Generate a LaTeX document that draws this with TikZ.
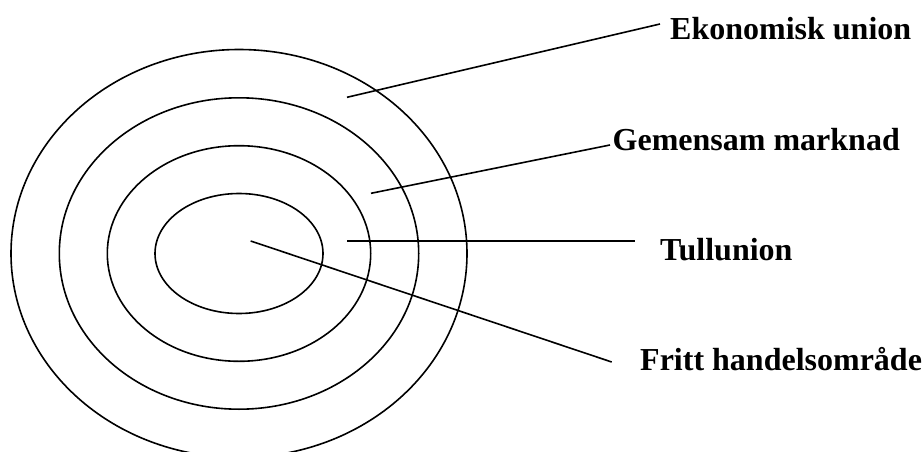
\documentclass[tikz,border=0pt]{standalone}
\usepackage{fontspec}
\setmainfont{Liberation Serif}
\begin{document}
\begin{tikzpicture}[x=1pt,y=1pt,
  ring/.style={draw=black,line width=1.6pt},
  leader/.style={draw=black,line width=1.6pt},
  lbl/.style={anchor=base west,inner sep=0pt,font=\fontsize{32}{38}\selectfont\bfseries}]
\useasboundingbox (0,0) rectangle (923,-452);
\clip (0,0) rectangle (923,-452);
\coordinate (c) at (239,-253.5);
\draw[ring] (c) ellipse [x radius=228, y radius=204];
\draw[ring] (c) ellipse [x radius=179.7, y radius=155.7];
\draw[ring] (c) ellipse [x radius=131.7, y radius=107.8];
\draw[ring] (c) ellipse [x radius=84, y radius=60];
\node[lbl] (eu) at (670,-40) {Ekonomisk union};
\node[lbl] (gm) at (612.5,-150) {Gemensam marknad};
\node[lbl] (tu) at (660,-260.7) {Tullunion};
\node[lbl] (fh) at (640,-370.7) {Fritt handelsområde};
\coordinate (eu-s) at (347,-97.3);
\coordinate (eu-e) at (660,-24);
\coordinate (gm-s) at (371,-193.3);
\coordinate (gm-e) at (610,-145);
\coordinate (tu-s) at (347,-240.7);
\coordinate (tu-e) at (635,-240.7);
\coordinate (fh-s) at (250.7,-241);
\coordinate (fh-e) at (611.7,-362);
\draw[leader] (eu-s) -- (eu-e);
\draw[leader] (gm-s) -- (gm-e);
\draw[leader] (tu-s) -- (tu-e);
\draw[leader] (fh-s) -- (fh-e);
\end{tikzpicture}
\end{document}
